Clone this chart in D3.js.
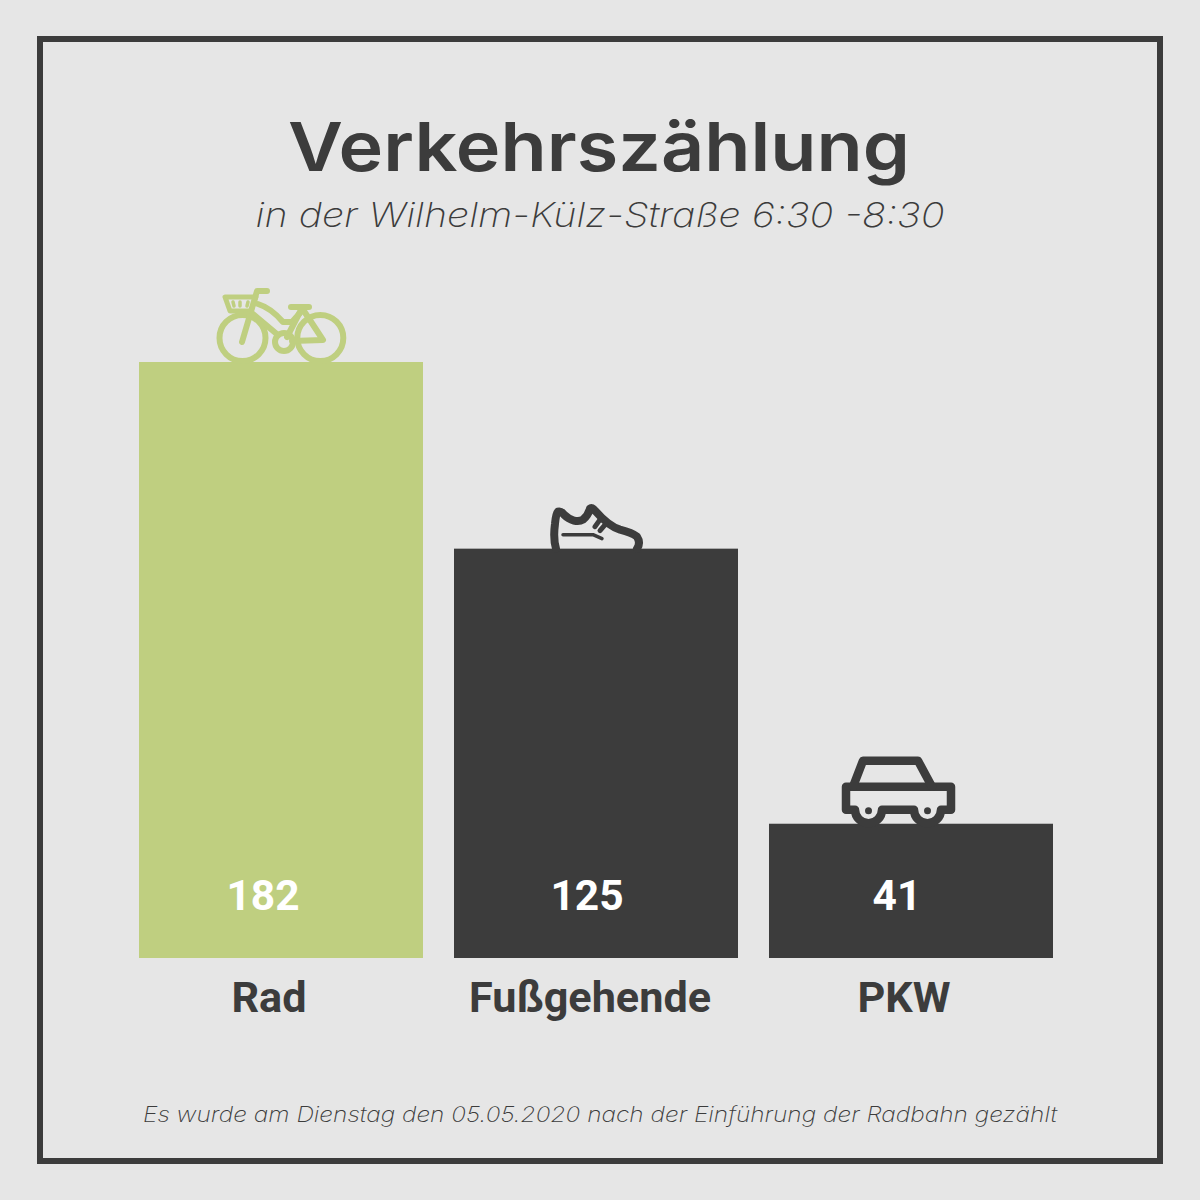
<!DOCTYPE html>
<html lang="de">
<head>
<meta charset="utf-8">
<title>Verkehrszählung</title>
<script src="https://cdnjs.cloudflare.com/ajax/libs/d3/7.8.5/d3.min.js"></script>
<style>
  html, body { margin: 0; padding: 0; background: #e6e6e6; }
  svg { display: block; }
  .icon * { fill: none; stroke-linecap: round; stroke-linejoin: round; }
</style>
</head>
<body>
<svg id="chart" width="1200" height="1200"></svg>
<script>
// Count results per mode of transport
const categories = ["Rad", "Fußgehende", "PKW"];
const counts = [182, 125, 41];
const barColors = ["#bfcf80", "#3c3c3c", "#3c3c3c"];

const titleText = "Verkehrszählung";
const subtitleText = "in der Wilhelm-Külz-Straße 6:30 -8:30";
const footnoteText = "Es wurde am Dienstag den 05.05.2020 nach der Einführung der Radbahn gezählt";

const INK = "#3c3c3c";
const svg = d3.select("#chart");

// Background and outer frame
svg.append("rect").attr("width", 1200).attr("height", 1200).attr("fill", "#e6e6e6");
svg.append("rect")
  .attr("x", 40).attr("y", 39).attr("width", 1120).attr("height", 1122)
  .attr("fill", "none").attr("stroke", INK).attr("stroke-width", 6);

// Scales
const x = d3.scaleBand().domain(categories).range([139, 1053]).paddingInner(0.0984);
const y = d3.scaleLinear().domain([0, 182]).range([958, 362]);

// Headings, stretched to a wide geometric proportion
function heading(text, cx, baseline, size, weight, italic, length, color) {
  svg.append("text").text(text)
    .attr("x", cx).attr("y", baseline).attr("text-anchor", "middle")
    .attr("font-family", "Inter").attr("font-weight", weight)
    .attr("font-style", italic ? "italic" : "normal")
    .attr("font-size", size).attr("fill", color)
    .attr("textLength", length).attr("lengthAdjust", "spacingAndGlyphs");
}
heading(titleText, 599, 171, 68, 600, false, 622, INK);
heading(subtitleText, 600, 227, 34, 200, true, 689, INK);
heading(footnoteText, 600, 1122, 21, 200, true, 914, INK);

// Bars
svg.append("g").selectAll("rect").data(categories).join("rect")
  .attr("x", d => x(d))
  .attr("width", x.bandwidth())
  .attr("y", (d, i) => y(counts[i]))
  .attr("height", (d, i) => y(0) - y(counts[i]))
  .attr("fill", (d, i) => barColors[i]);

// Labels sit slightly left of the bar centres
const valueShift = [-18, -9, -14];
const nameShift = [-12, -6, -7];

svg.append("g").selectAll("text").data(categories).join("text")
  .text((d, i) => counts[i])
  .attr("x", (d, i) => x(d) + x.bandwidth() / 2 + valueShift[i])
  .attr("y", 910).attr("text-anchor", "middle")
  .attr("font-family", "Roboto").attr("font-weight", 700).attr("font-size", 42.5)
  .attr("fill", "#ffffff");

svg.append("g").selectAll("text").data(categories).join("text")
  .text(d => d)
  .attr("x", (d, i) => x(d) + x.bandwidth() / 2 + nameShift[i])
  .attr("y", 1012).attr("text-anchor", "middle")
  .attr("font-family", "Roboto").attr("font-weight", 700).attr("font-size", 43.2)
  .attr("fill", INK);

// Icons, drawn with their base resting on the top edge of each bar
function iconGroup(i, originX) {
  return svg.append("g").attr("class", "icon")
    .attr("transform", `translate(${originX},${y(counts[i])})`)
    .attr("stroke", barColors[i]);
}

// Bicycle, origin at the ground line between the wheels
const bike = iconGroup(0, 281).attr("stroke-width", 6);
bike.append("circle").attr("cx", -38.5).attr("cy", -24).attr("r", 23);
bike.append("circle").attr("cx", 39.3).attr("cy", -24).attr("r", 23);
bike.append("circle").attr("cx", 3).attr("cy", -20).attr("r", 9);
bike.append("path").attr("d", "M-56,-65 L-25,-65 L-30,-51 L-51,-51 Z").attr("stroke-width", 5);
bike.append("path").attr("d", "M-48,-60 L-47,-56 M-41,-60 L-41,-56 M-33,-60 L-34,-56").attr("stroke-width", 3.5);
bike.append("path").attr("d", "M-14,-71 L-24,-71 L-39,-20");
bike.append("path").attr("d", "M-23,-58 Q-10,-54 2,-40 L11,-40 L19,-49");
bike.append("path").attr("d", "M-28,-48 L-3,-27");
bike.append("path").attr("d", "M6,-25 L21,-54 L42,-22 L11,-21");
bike.append("path").attr("d", "M10,-55 L28,-55");

// Running shoe
const shoe = iconGroup(1, 0).attr("stroke-width", 8);
shoe.append("path").attr("d",
  "M556,0 Q553,-10 555,-25 Q556,-35 558,-37 Q561,-38 564,-34 C570,-28 578,-26 583,-29 " +
  "Q588,-33 590,-40 Q592,-42 595,-38 C602,-30 610,-22 620,-19 Q632,-16 637,-12 Q641,-6 637,0");
shoe.append("path").attr("d", "M563,-14 L593,-14 L602,-10").attr("stroke-width", 3.5);
shoe.append("path").attr("d", "M600,-29 L595,-22 M606,-25 L600,-18").attr("stroke-width", 5);

// Car, wheels reaching down to the bar below
const car = iconGroup(2, 0).attr("stroke-width", 8.5);
car.append("path").attr("d",
  "M846,-37 L951,-37 L951,-14 L941,-14 A13.5,13.5 0 0 1 914,-14 L882,-14 A13.5,13.5 0 0 1 855,-14 L846,-14 Z");
car.append("path").attr("d", "M853,-37 L863,-63 L918,-63 L932,-37");
car.append("circle").attr("cx", 868.5).attr("cy", -13).attr("r", 3.5).attr("stroke", "none").style("fill", INK);
car.append("circle").attr("cx", 927.5).attr("cy", -13).attr("r", 3.5).attr("stroke", "none").style("fill", INK);
</script>
</body>
</html>
